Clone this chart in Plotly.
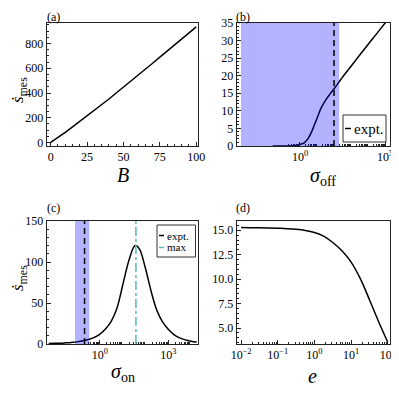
import plotly.graph_objects as go

# ---- data ----
# (a) rate vs B
B = [0, 5, 10, 15, 20, 25, 30, 35, 40, 45, 50, 55, 60, 65, 70, 75, 80, 85, 90, 95, 100]
s_dot_B = [2, 40, 82, 126, 170, 214, 260, 306, 352, 400, 447, 495, 543, 592, 641,
           690, 739, 788, 837, 886, 935]

# (b) rate vs sigma_off
sigma_off = [0.025, 0.0316, 0.1, 0.178, 0.316, 0.562, 1, 1.78, 3.16, 5.62, 10, 17.8,
             31.6, 56.2, 100, 178, 316, 1000, 3160, 1e4, 3.16e4, 1e5, 3.16e5]
s_dot_off = [0, 0, 0, 0.02, 0.05, 0.15, 0.5, 0.9, 2.3, 4.8, 7.9, 10.9,
             13.0, 14.7, 16.3, 17.9, 19.6, 22.7, 25.8, 28.9, 31.9, 35.0, 38.1]
sigma_off_expt = 100
sigma_off_band = (3.4e-4, 200)

# (c) rate vs sigma_on
sigma_on = [5.6e-3, 0.01, 0.0178, 0.0316, 0.0562, 0.1, 0.178, 0.316, 0.562, 1, 1.78,
            3.16, 5.62, 10, 17.8, 31.6, 38, 56.2, 100, 178, 316, 562, 1000, 1780,
            3160, 5620, 1e4, 1.78e4]
s_dot_on = [0.6, 0.8, 1.0, 1.4, 1.9, 2.6, 4.0, 5.6, 8.0, 12, 18.5,
            28, 44, 72, 100, 119, 120, 115, 92, 64, 41, 27, 18, 11.5,
            7.5, 5, 3.4, 2.3]
sigma_on_expt = 0.21
sigma_on_band = (0.08, 0.34)
sigma_on_max = 38

# (d) rate vs e
e_vals = [0.01, 0.0178, 0.0316, 0.0562, 0.1, 0.178, 0.316, 0.562, 1, 1.78, 3.16,
          5.62, 10, 17.8, 31.6, 56.2, 100]
s_dot_e = [15.28, 15.27, 15.26, 15.24, 15.21, 15.17, 15.1, 14.98, 14.77, 14.4, 13.75,
           12.9, 11.75, 10.05, 7.9, 5.65, 3.55]

# the page body has an 8px margin, so the figure is drawn 8px in from the window corner
# and kept short enough that the page does not scroll
PAD = 8
W = 399 - PAD
H = 399 - 2 * PAD
FONT = "Liberation Serif, serif"
CYAN = "#55BBBB"
BAND = "rgba(0,0,255,0.3)"


def fx(px):
    return (px - PAD) / W


def fy(py):
    return 1 - (py - PAD) / H


fig = go.Figure()
line = dict(color="black", width=1.5)
fig.add_trace(go.Scatter(x=B, y=s_dot_B, mode="lines", line=line, xaxis="x", yaxis="y"))
fig.add_trace(go.Scatter(x=sigma_off, y=s_dot_off, mode="lines", line=dict(line, shape="spline"),
                         xaxis="x2", yaxis="y2"))
fig.add_trace(go.Scatter(x=sigma_on, y=s_dot_on, mode="lines", line=dict(line, shape="spline"),
                         xaxis="x3", yaxis="y3"))
fig.add_trace(go.Scatter(x=e_vals, y=s_dot_e, mode="lines", line=dict(line, shape="spline"),
                         xaxis="x4", yaxis="y4"))

ax_common = dict(showline=True, mirror=True, linecolor="#222", linewidth=1, automargin=False,
                 ticks="inside", ticklen=4, tickcolor="#222", showgrid=False, zeroline=False,
                 tickfont=dict(family=FONT, size=12, color="black"))


def minor(**kw):
    return dict(ticks="inside", ticklen=2, tickcolor="#222", showgrid=False, **kw)


def logminor(k0, k1):
    return minor(tickmode="array", tickvals=[m * 10 ** k for k in range(k0, k1) for m in range(2, 10)])


def sup(k):
    return "10<sup>%s</sup>" % (str(k).replace("-", "\u2212"))


top = [fy(146), fy(23)]
bot = [fy(344), fy(221)]
left = [fx(46.7), fx(198.3)]
right = [fx(236.7), fx(390)]

fig.update_layout(
    width=W, height=H, margin=dict(l=0, r=0, t=0, b=0, autoexpand=False),
    paper_bgcolor="white", plot_bgcolor="white", showlegend=False,
    xaxis=dict(ax_common, domain=left, anchor="y", range=[-2.75, 101.4],
               tickvals=[0, 25, 50, 75, 100], minor=minor(dtick=5)),
    yaxis=dict(ax_common, domain=top, anchor="x", range=[-28, 966],
               tickvals=[0, 200, 400, 600, 800], minor=minor(dtick=50)),
    xaxis2=dict(ax_common, domain=right, anchor="y2", type="log", range=[-3.72, 5.29],
                tickvals=[1, 1e5], ticktext=[sup(0), sup(5)], minor=logminor(-1, 5)),
    yaxis2=dict(ax_common, domain=top, anchor="x2", range=[0, 35], dtick=5, minor=minor(dtick=1)),
    xaxis3=dict(ax_common, domain=left, anchor="y3", type="log", range=[-2.34, 4.32],
                tickvals=[1, 1e3], ticktext=[sup(0), sup(3)], minor=logminor(-1, 4)),
    yaxis3=dict(ax_common, domain=bot, anchor="x3", range=[0, 150], dtick=50, minor=minor(dtick=10)),
    xaxis4=dict(ax_common, domain=right, anchor="y4", type="log", range=[-2.12, 2.06],
                tickvals=[0.01, 0.1, 1, 10, 100], ticktext=[sup(k) for k in range(-2, 3)],
                minor=logminor(-2, 2)),
    yaxis4=dict(ax_common, domain=bot, anchor="x4", range=[3.37, 15.95],
                tickvals=[5, 7.5, 10, 12.5, 15], tickformat=".1f", minor=minor(dtick=0.5)),
)

# shaded bands and reference lines
fig.add_shape(type="rect", xref="x2", yref="y2 domain", x0=sigma_off_band[0], x1=sigma_off_band[1],
              y0=0, y1=1, fillcolor=BAND, line_width=0, layer="above")
fig.add_shape(type="line", xref="x2", yref="y2 domain", x0=sigma_off_expt, x1=sigma_off_expt,
              y0=0, y1=1, line=dict(color="black", width=1.5, dash="6px,4px"), layer="above")
fig.add_shape(type="rect", xref="x3", yref="y3 domain", x0=sigma_on_band[0], x1=sigma_on_band[1],
              y0=0, y1=1, fillcolor=BAND, line_width=0, layer="above")
fig.add_shape(type="line", xref="x3", yref="y3 domain", x0=sigma_on_expt, x1=sigma_on_expt,
              y0=0, y1=1, line=dict(color="black", width=1.5, dash="6px,4px"), layer="above")
fig.add_shape(type="line", xref="x3", yref="y3 domain", x0=sigma_on_max, x1=sigma_on_max,
              y0=0, y1=1, line=dict(color=CYAN, width=1.5, dash="dashdot"), layer="above")


def note(text, px, py, size, angle=0, xanchor="center", yanchor="middle"):
    fig.add_annotation(text=text, x=fx(px), y=fy(py), xref="paper", yref="paper",
                       showarrow=False, textangle=angle, xanchor=xanchor, yanchor=yanchor,
                       font=dict(family=FONT, size=size, color="black"))


# panel letters (top row pinned to the top edge of the figure)
note("(a)", 53, PAD, 12, yanchor="top")
note("(b)", 242.5, PAD, 12, yanchor="top")
note("(c)", 53, 208, 12)
note("(d)", 242.5, 208, 12)

# axis titles
ylab = "<i>\u1e61</i><sub>mes</sub>"
note("<i>B</i>", 123, 175, 20)
note("<i>\u03c3</i><sub>off</sub>", 323, 176, 20)
note("<i>\u03c3</i><sub>on</sub>", 123, 372, 20)
note("<i>e</i>", 312, 376, 20)
note(ylab, 19, 90, 17, angle=-90)
note(ylab, 19, 278, 17, angle=-90)


# hand-drawn legend boxes (short matplotlib-style handles)
def legend_box(x0, y0, x1, y1):
    fig.add_shape(type="rect", xref="paper", yref="paper", x0=fx(x0), x1=fx(x1),
                  y0=fy(y1), y1=fy(y0), line=dict(color="#333", width=1), fillcolor="white",
                  layer="above")


def legend_row(x, y, text, color, size, hlen):
    fig.add_shape(type="line", xref="paper", yref="paper", x0=fx(x), x1=fx(x + hlen),
                  y0=fy(y), y1=fy(y), line=dict(color=color, width=1.5), layer="above")
    note(text, x + hlen + 1, y, size, xanchor="left")


legend_box(343, 115, 386, 142)
legend_row(345, 128.5, "expt.", "black", 15, 6)
legend_box(157, 225, 195.5, 257)
legend_row(159, 235.5, "expt.", "black", 11, 5)
legend_row(159, 247.5, "max", CYAN, 11, 5)

fig.write_html("out.html")
